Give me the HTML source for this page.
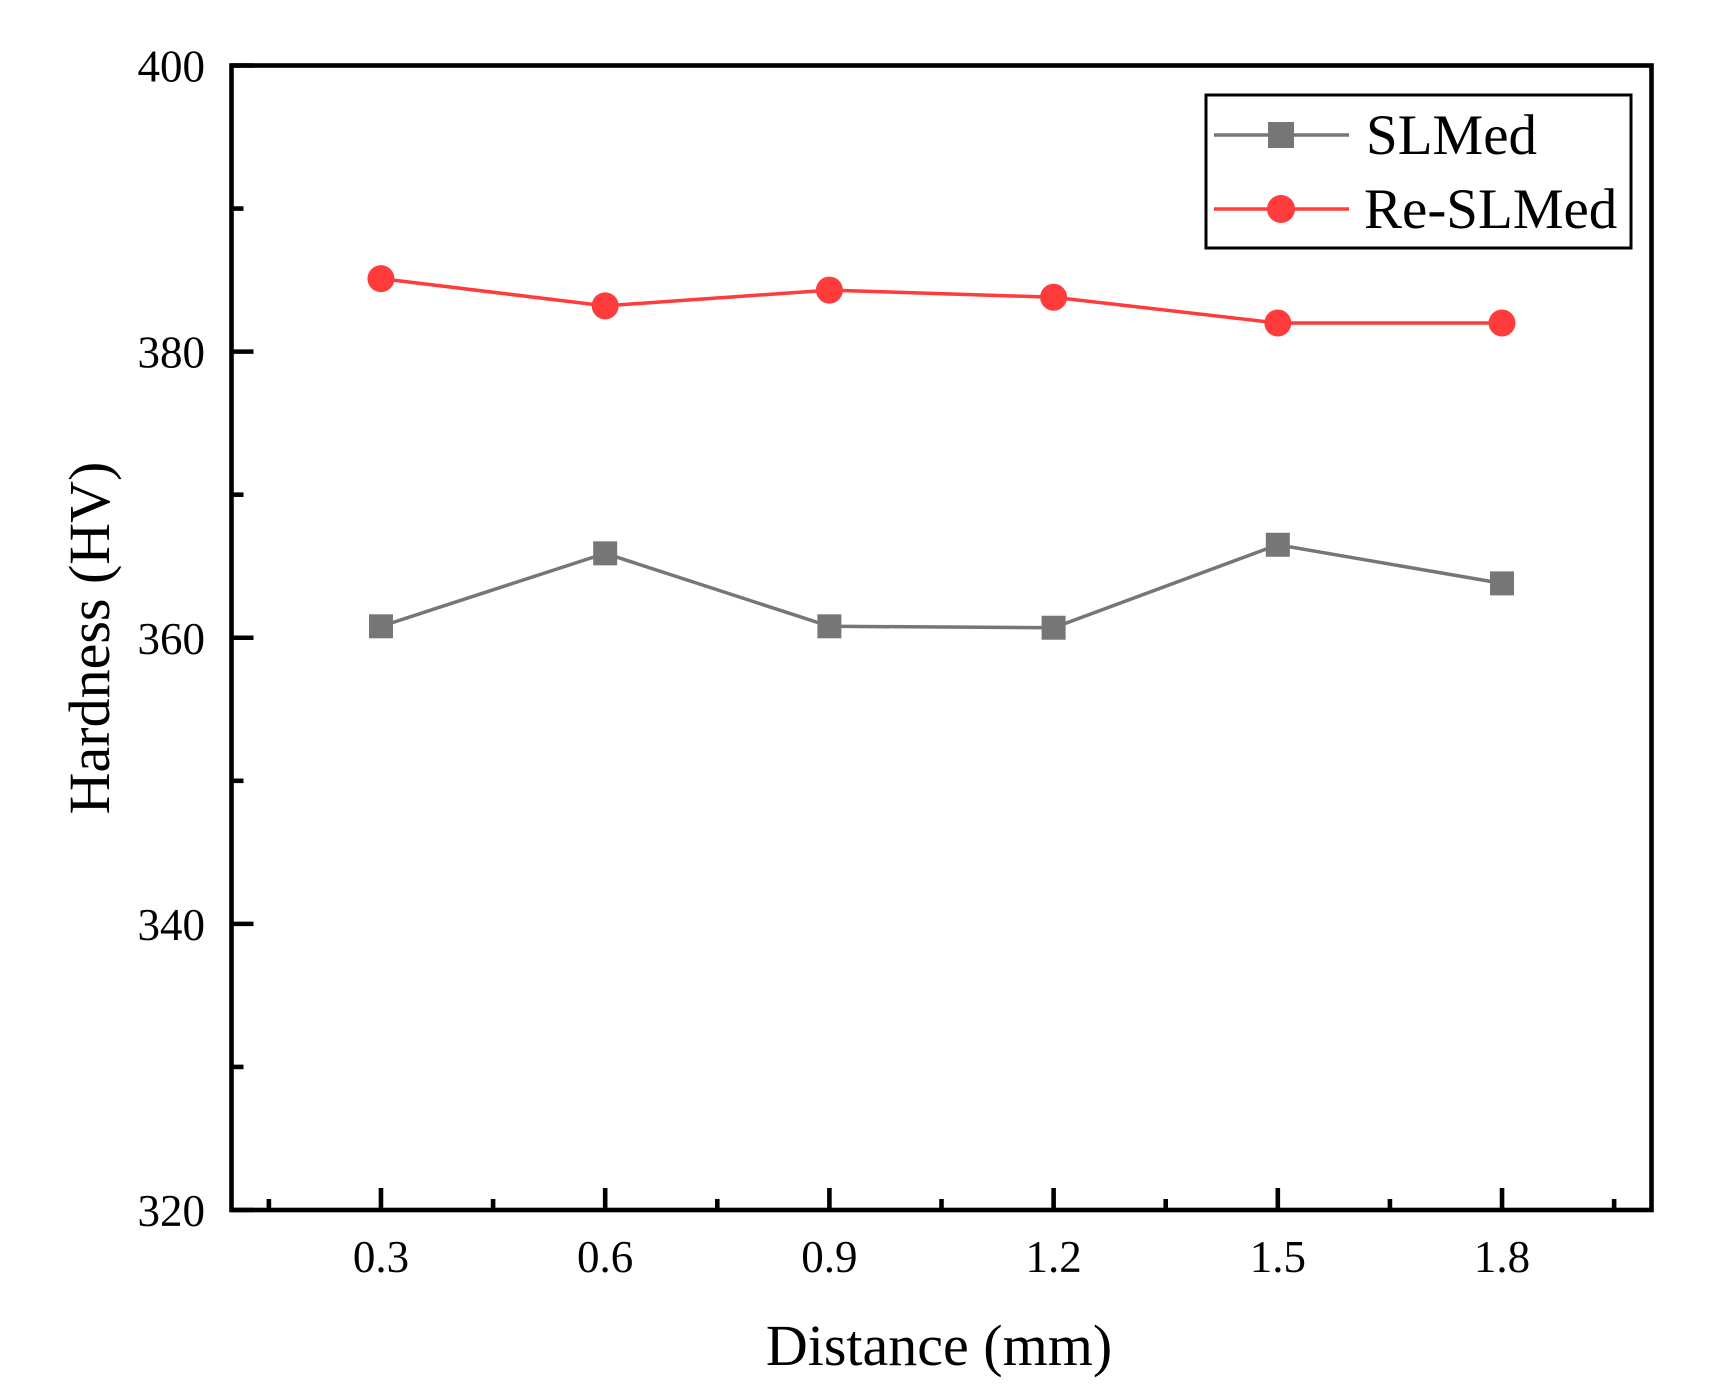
<!DOCTYPE html>
<html><head><meta charset="utf-8"><style>
html,body{margin:0;padding:0;background:#fff;}
svg{display:block;font-family:"Liberation Serif",serif;}
</style></head><body>
<svg id="chart" width="1714" height="1391" viewBox="0 0 1714 1391" xmlns="http://www.w3.org/2000/svg">
<rect width="1714" height="1391" fill="#fff"/>
<g id="plot"></g>
<rect x="231.5" y="65.5" width="1420" height="1144.5" fill="none" stroke="#000" stroke-width="4.6"/>
<text transform="translate(109,638) rotate(-90)" text-anchor="middle" font-size="58">Hardness (HV)</text>
<text x="939" y="1365" text-anchor="middle" font-size="58">Distance (mm)</text>
<g>
<rect x="1206" y="95" width="425" height="153" fill="#fff" stroke="#000" stroke-width="3"/>
<g>
<line x1="1214" y1="135" x2="1349" y2="135" stroke="#767676" stroke-width="3.5"/>
<rect x="1268" y="122" width="26" height="26" fill="#767676"/>
<text x="1366" y="154" font-size="57">SLMed</text>
</g>
<g>
<line x1="1214" y1="209" x2="1349" y2="209" stroke="#ff3b3b" stroke-width="3.5"/>
<circle cx="1281" cy="209" r="14" fill="#ff3b3b"/>
<text x="1364" y="228" font-size="57">Re-SLMed</text>
</g>
</g>
</svg>
<script>
const categories = [0.3, 0.6, 0.9, 1.2, 1.5, 1.8];
const slmedValues = [360.8, 365.9, 360.8, 360.7, 366.5, 363.8];
const reSlmedValues = [385.1, 383.2, 384.3, 383.8, 382.0, 382.0];
const xTickLabels = ["0.3", "0.6", "0.9", "1.2", "1.5", "1.8"];
const yTickLabels = [320, 340, 360, 380, 400];

const NS = "http://www.w3.org/2000/svg";
const X0 = 231.5, X1 = 1651.5, Y0 = 1210, Y1 = 65.5;
const xMin = 0.1, xMax = 2.0, yMin = 320, yMax = 400;
function xs(v){ return X0 + (v - xMin) / (xMax - xMin) * (X1 - X0); }
function ys(v){ return Y0 - (v - yMin) / (yMax - yMin) * (Y0 - Y1); }
function mk(tag, attrs, parent){
  const e = document.createElementNS(NS, tag);
  for (const k in attrs) e.setAttribute(k, attrs[k]);
  parent.appendChild(e);
  return e;
}
const g = document.getElementById('plot');

for (let v = yMin; v <= yMax; v += 10) {
  const major = (v % 20 === 0);
  const t = mk('line', {x1: X0, x2: X0 + (major ? 22 : 12), y1: ys(v), y2: ys(v), stroke: '#000', 'stroke-width': 4.6}, g);
  
  
}
yTickLabels.forEach(v => {
  const t = mk('text', {x: 205, y: ys(v) + 16, 'text-anchor': 'end', 'font-size': 45}, g);
  t.textContent = v;
  
  
});
for (let i = 0; i <= 12; i++) {
  const v = 0.15 + i * 0.15;
  const major = (i % 2 === 1);
  const t = mk('line', {x1: xs(v), x2: xs(v), y1: Y0, y2: Y0 - (major ? 22 : 11), stroke: '#000', 'stroke-width': 4.6}, g);
  
  
}
categories.forEach((c, i) => {
  const t = mk('text', {x: xs(c), y: 1272, 'text-anchor': 'middle', 'font-size': 45}, g);
  t.textContent = xTickLabels[i];
  
  
});

function series(vals, color, shape, name){
  const pts = categories.map((c, i) => xs(c) + ',' + ys(vals[i])).join(' ');
  const pl = mk('polyline', {points: pts, fill: 'none', stroke: color, 'stroke-width': 3.5}, g);
  
  
  categories.forEach((c, i) => {
    let m;
    if (shape === 'square') m = mk('rect', {x: xs(c) - 12, y: ys(vals[i]) - 12, width: 24, height: 24, fill: color}, g);
    else m = mk('circle', {cx: xs(c), cy: ys(vals[i]), r: 13.5, fill: color}, g);
    
    
  });
}
series(slmedValues, '#767676', 'square', 'slmed');
series(reSlmedValues, '#ff3b3b', 'circle', 're-slmed');
</script>
</body></html>
